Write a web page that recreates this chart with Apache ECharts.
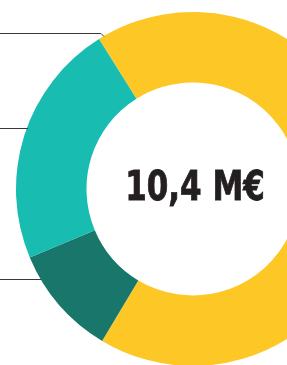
<!DOCTYPE html>
<html>
<head>
<meta charset="utf-8">
<script src="https://cdn.jsdelivr.net/npm/echarts@6/dist/echarts.min.js"></script>
<style>
  html, body { margin: 0; padding: 0; background: #fff; }
  #chart { width: 287px; height: 365px; }
</style>
</head>
<body>
<div id="chart"></div>
<script>
// parts of the total, in M€
const parts = ['Part A', 'Part B', 'Part C']
const values = [7.02, 1.05, 2.33]
const colors = ['#fdc726', '#18776a', '#19bcb1']
const totalLabel = '10,4 M€'

const chart = echarts.init(document.getElementById('chart'))

// leader lines running off to the (cropped) labels on the left
const leaders = [
  [[0, 33.5], [101, 33.5], [104, 36.5]],
  [[0, 128.5], [28, 128.5]],
  [[0, 279.5], [41, 279.5]]
]

const option = {
  animation: false,
  series: [
    {
      type: 'pie',
      center: [193, 189],
      radius: [106.5, 177],
      startAngle: 122.1,
      clockwise: true,
      label: { show: false },
      labelLine: { show: false },
      emphasis: { disabled: true },
      data: parts.map((name, i) => ({
        name: name,
        value: values[i],
        itemStyle: { color: colors[i] }
      }))
    }
  ],
  graphic: [
    ...leaders.map(pts => ({
      type: 'polyline',
      shape: { points: pts },
      style: { stroke: '#3a3a3a', lineWidth: 1, fill: null },
      z: 10
    })),
    {
      type: 'text',
      x: 195,
      y: 189,
      scaleX: 0.84,
      style: {
        text: totalLabel,
        fill: '#231f20',
        stroke: '#231f20',
        lineWidth: 0.8,
        font: 'bold 41px "DejaVu Sans Condensed", "DejaVu Sans", sans-serif',
        textAlign: 'center',
        textVerticalAlign: 'middle'
      },
      z: 10
    }
  ]
}

chart.setOption(option)
</script>
</body>
</html>
